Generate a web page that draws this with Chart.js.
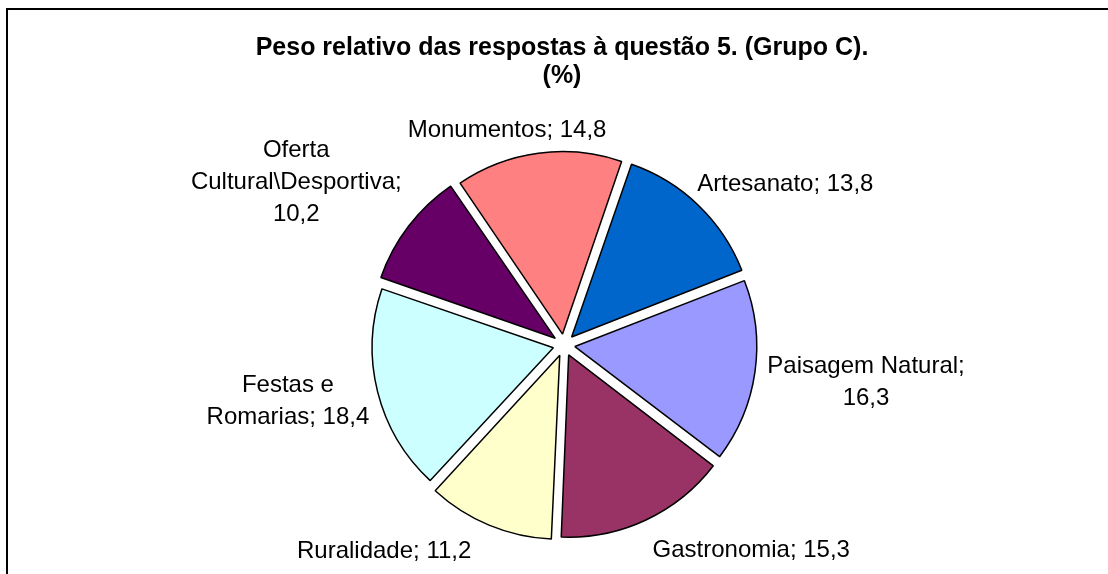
<!DOCTYPE html>
<html>
<head>
<meta charset="utf-8">
<script src="https://cdn.jsdelivr.net/npm/chart.js@4"></script>
<style>
html,body{margin:0;padding:0;background:#fff;}
#wrap{position:relative;width:1108px;height:574px;}
</style>
</head>
<body>
<div id="wrap"><canvas id="c" width="1108" height="574"></canvas></div>
<script>
/* dados */
const categories = ["Artesanato","Paisagem Natural","Gastronomia","Ruralidade","Festas e Romarias","Oferta Cultural\\Desportiva","Monumentos"];
const values = [13.8,16.3,15.3,11.2,18.4,10.2,14.8];
const sliceColors = ["#0066CC","#9999FF","#993366","#FFFFCC","#CCFFFF","#660066","#FF8080"];
const titleLines = ["Peso relativo das respostas à questão 5. (Grupo C).","(%)"];

/* quebras de linha dos rotulos, como no original */
const labelText = [
"Artesanato; {v}",
"Paisagem Natural;\n{v}",
"Gastronomia; {v}",
"Ruralidade; {v}",
"Festas e\nRomarias; {v}",
"Oferta\nCultural\\Desportiva;\n{v}",
"Monumentos; {v}"
];
/* pequenos ajustes de posicao dos rotulos */
const labelNudge = [[21,-4],[5,5],[60,9],[-69,6],[-2,-1],[-24,-11],[-17,1]];

const fmt = v => v.toFixed(1).replace(".",",");

const frameAndText = {
id:"frameAndText",
beforeDraw(chart){
const ctx = chart.ctx;
ctx.save();
ctx.fillStyle="#fff";
ctx.fillRect(0,0,chart.width,chart.height);
ctx.strokeStyle="#000";
ctx.lineWidth=2;
ctx.beginPath();
ctx.moveTo(7,574);
ctx.lineTo(7,9);
ctx.lineTo(1108,9);
ctx.stroke();
ctx.restore();
},
afterDatasetsDraw(chart){
const ctx = chart.ctx;
ctx.save();
ctx.fillStyle="#000";
ctx.textAlign="center";
ctx.textBaseline="alphabetic";
ctx.font='bold 25px "Liberation Sans", Arial, sans-serif';
ctx.fillText(titleLines[0],562,55);
ctx.fillText(titleLines[1],562,83);

ctx.font='24px "Liberation Sans", Arial, sans-serif';
ctx.textBaseline="middle";
const lineH = 32;
const meta = chart.getDatasetMeta(0);
meta.data.forEach((arc,i)=>{
const p = arc.getProps(["x","y","startAngle","endAngle","outerRadius"],true);
const mid = (p.startAngle+p.endAngle)/2;
const shift = (arc.options.offset||0)/4;
const r = p.outerRadius+shift+10;
const ax = p.x+Math.cos(mid)*r;
const ay = p.y+Math.sin(mid)*r;
const lines = labelText[i].replace("{v}",fmt(values[i])).split("\n");
const w = Math.max(...lines.map(l=>ctx.measureText(l).width));
const h = lines.length*lineH;
const cx = ax+Math.cos(mid)*w/2+labelNudge[i][0];
const cy = ay+Math.sin(mid)*h/2+labelNudge[i][1];
lines.forEach((l,j)=>{
ctx.fillText(l,cx,cy-h/2+lineH*(j+0.5));
});
});
ctx.restore();
}
};

new Chart(document.getElementById("c"),{
type:"pie",
data:{
labels:categories,
datasets:[{
data:values,
backgroundColor:sliceColors,
borderColor:"#000",
borderWidth:1.5,
offset:44
}]
},
options:{
responsive:false,
animation:false,
events:[],
rotation:19,
layout:{padding:{top:142,bottom:26,left:100,right:80}},
plugins:{
legend:{display:false},
title:{display:false},
tooltip:{enabled:false}
}
},
plugins:[frameAndText]
});
</script>
</body>
</html>
